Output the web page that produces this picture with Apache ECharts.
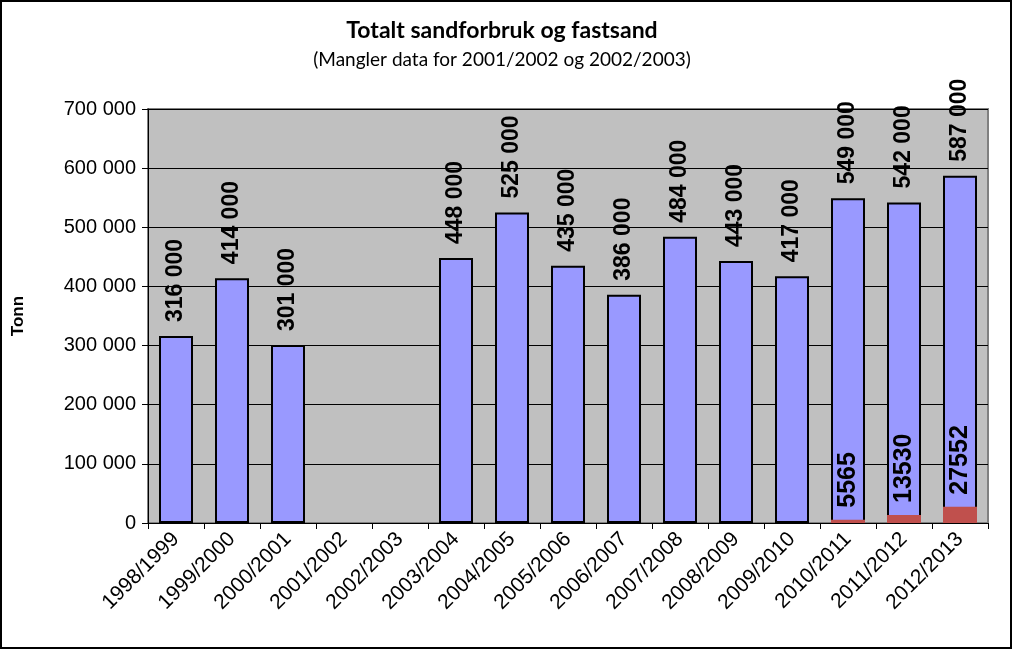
<!DOCTYPE html>
<html>
<head>
<meta charset="utf-8">
<script src="https://cdn.jsdelivr.net/npm/echarts@6/dist/echarts.min.js"></script>
<style>
html,body{margin:0;padding:0;background:#fff;}
#c{width:1012px;height:649px;}
</style>
</head>
<body>
<div id="c"></div>
<script>
const categories = ['1998/1999','1999/2000','2000/2001','2001/2002','2002/2003','2003/2004','2004/2005','2005/2006','2006/2007','2007/2008','2008/2009','2009/2010','2010/2011','2011/2012','2012/2013'];
const totalSand = [316000,414000,301000,null,null,448000,525000,435000,386000,484000,443000,417000,549000,542000,587000];
const fastSand = [null,null,null,null,null,null,null,null,null,null,null,null,5565,13530,27552];
const titleText = 'Totalt sandforbruk og fastsand';
const subtitleText = '(Mangler data for 2001/2002 og 2002/2003)';
const yAxisName = 'Tonn';

function fmt(v){ return String(v).replace(/\B(?=(\d{3})+(?!\d))/g,' '); }

// fit title font sizes to the reference text widths
const ctx = document.createElement('canvas').getContext('2d');
function fitSize(text, weight, family, targetW){
  ctx.font = weight + ' 20px "' + family + '"';
  const w = ctx.measureText(text).width;
  return Math.round(20 * targetW / w * 2) / 2;
}
const titleSize = fitSize(titleText, 'bold', 'Lato', 314);
const subSize = fitSize(subtitleText, 'normal', 'Lato', 378);

const chart = echarts.init(document.getElementById('c'), null, {renderer:'canvas'});
chart.setOption({
  animation:false,
  backgroundColor:'#fff',
  title:[
    {text:titleText,left:497,textAlign:'center',top:28 - titleSize*0.6,
     textStyle:{fontFamily:'Lato',fontWeight:'bold',fontSize:titleSize,color:'#000'}},
    {text:subtitleText,left:497,textAlign:'center',top:57 - subSize*0.6,
     textStyle:{fontFamily:'Lato',fontWeight:'normal',fontSize:subSize,color:'#000'}}
  ],
  graphic:[{type:'rect',shape:{x:1,y:1,width:1010,height:647},style:{fill:'none',stroke:'#000',lineWidth:2},silent:true,z:100}],
  grid:{left:148,right:24,top:109,bottom:126,show:true,backgroundColor:'#C0C0C0',borderColor:'#808080',borderWidth:2},
  xAxis:{
    type:'category',data:categories,boundaryGap:true,
    axisLine:{lineStyle:{color:'#000',width:1}},
    axisTick:{show:true,length:6,lineStyle:{color:'#000'},alignWithLabel:false},
    axisLabel:{rotate:45,interval:0,margin:13,fontFamily:'Liberation Sans',fontSize:21,color:'#000'}
  },
  yAxis:{
    type:'value',min:0,max:700000,interval:100000,
    name:yAxisName,nameLocation:'middle',nameGap:121,nameRotate:90,
    nameTextStyle:{fontFamily:'Liberation Sans',fontWeight:'bold',fontSize:17,color:'#000'},
    axisLine:{show:true,lineStyle:{color:'#000'}},
    axisTick:{show:true,length:6,lineStyle:{color:'#000'}},
    splitLine:{show:true,lineStyle:{color:'#000',width:1}},
    axisLabel:{fontFamily:'Liberation Sans',fontSize:20,color:'#000',margin:12,formatter:fmt}
  },
  series:[
    {name:'Totalt',type:'bar',data:totalSand,barWidth:34,barGap:'-100%',
     itemStyle:{color:'#9999FF',borderColor:'#000',borderWidth:2},
     label:{show:true,position:'top',rotate:90,align:'left',verticalAlign:'middle',distance:14,
       fontFamily:'Liberation Sans',fontWeight:'bold',fontSize:23,color:'#000',
       formatter:p=>fmt(p.value)}},
    {name:'Fastsand',type:'bar',data:fastSand,barWidth:34,
     itemStyle:{color:'#C0504D'},
     label:{show:true,position:'top',rotate:90,align:'left',verticalAlign:'middle',distance:12,
       fontFamily:'Liberation Sans',fontWeight:'bold',fontSize:25,color:'#000',
       formatter:p=>String(p.value)}}
  ]
});
</script>
</body>
</html>
